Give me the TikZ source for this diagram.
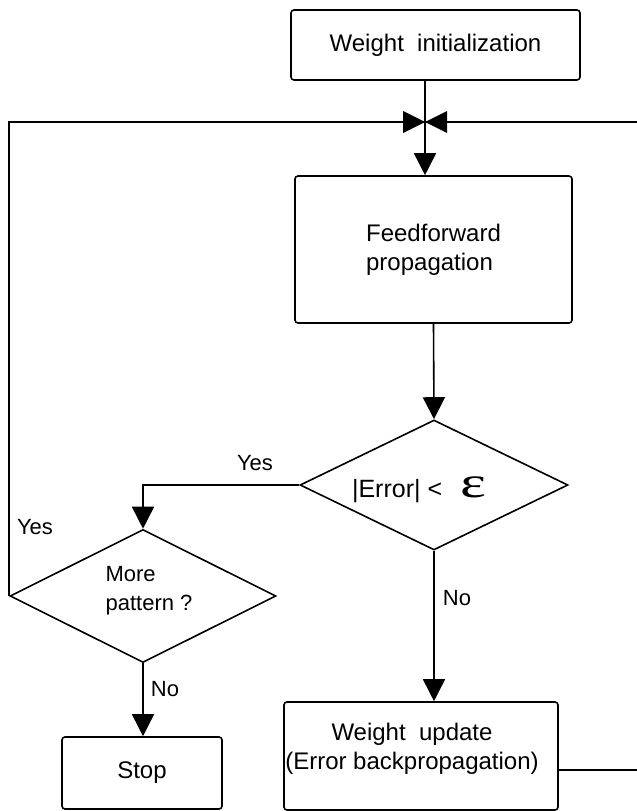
\documentclass[tikz,border=0pt]{standalone}
\usepackage{fontspec}
\setmainfont{Liberation Sans}
\newfontfamily\epsfont{Liberation Serif}
\usetikzlibrary{shapes.geometric,arrows.meta}

\begin{document}
\begin{tikzpicture}[x=1pt,y=-1pt,line width=1.6pt,
  box/.style={draw,rounded corners=3pt,inner sep=0pt,align=center,
    font=\fontsize{24}{29}\selectfont},
  btext/.style={inner sep=0pt,align=center,font=\fontsize{24}{29}\selectfont},
  decision/.style={draw,diamond,inner sep=0pt},
  dtext/.style={inner sep=0pt,align=left,font=\fontsize{22}{29}\selectfont},
  flow/.style={-{Triangle[length=22pt,width=22pt]}},
  lbl/.style={inner sep=0pt,font=\fontsize{22}{26}\selectfont}]

% page
\fill[white] (0,0) rectangle (637,811);
\useasboundingbox (0,0) rectangle (637,811);

% blocks
\node[box,minimum width=289pt,minimum height=70pt] (init) at (435.5,45)
  {Weight\ \ initialization};
\node[box,minimum width=277pt,minimum height=147pt,align=left] (ff) at (433.5,249.5)
  {Feedforward\\propagation};
\node[decision,minimum width=268pt,minimum height=130pt] (err) at (434,485) {};
\node[dtext,anchor=base] (errtext) at (419,497)
  {{\fontsize{25}{30}\selectfont |Error| <}\hspace{18pt}{\epsfont\fontsize{44}{44}\selectfont\scalebox{1.4}[1]{ε}}};
\node[decision,minimum width=266pt,minimum height=133pt] (more) at (143,596) {};
\node[dtext] (moretext) at (149,591) {More\\pattern ?};
\node[box,minimum width=274pt,minimum height=108pt] (upd) at (421,756) {};
\node[btext] (updtext) at (412,749) {Weight\ \ update\\(Error backpropagation)};
\node[box,minimum width=160pt,minimum height=72pt] (stop) at (142,773)
  {Stop};

% junction and free ends
\coordinate (J) at (425,122);
\coordinate (Rtop) at (637,122);
\coordinate (Rbot) at (637,770);

% connectors
\draw (init.south -| J) -- (J);
\draw[flow] (J) -- (ff.north -| J);
\draw[flow] (ff.south) -- (err.north);
\draw[flow] (err.west) -| (more.north);
\draw[flow] (err.south) -- (err.south |- upd.north);
\draw[flow] (more.south) -- (more.south |- stop.north);
\draw (more.west) |- (J);
\draw (Rtop) -- (J);
\draw (upd.east |- Rbot) -- (Rbot);

% merge symbol
\fill ([xshift=-22pt,yshift=-11pt]J) -- ([xshift=-22pt,yshift=11pt]J) -- (J) -- cycle;
\fill ([xshift=22pt,yshift=-11pt]J) -- ([xshift=22pt,yshift=11pt]J) -- (J) -- cycle;

% branch labels
\node[lbl] (yes1) at (255,463) {Yes};
\node[lbl] (yes2) at (35,527) {Yes};
\node[lbl] (no1) at (457,598) {No};
\node[lbl] (no2) at (165,689) {No};
\end{tikzpicture}
\end{document}
